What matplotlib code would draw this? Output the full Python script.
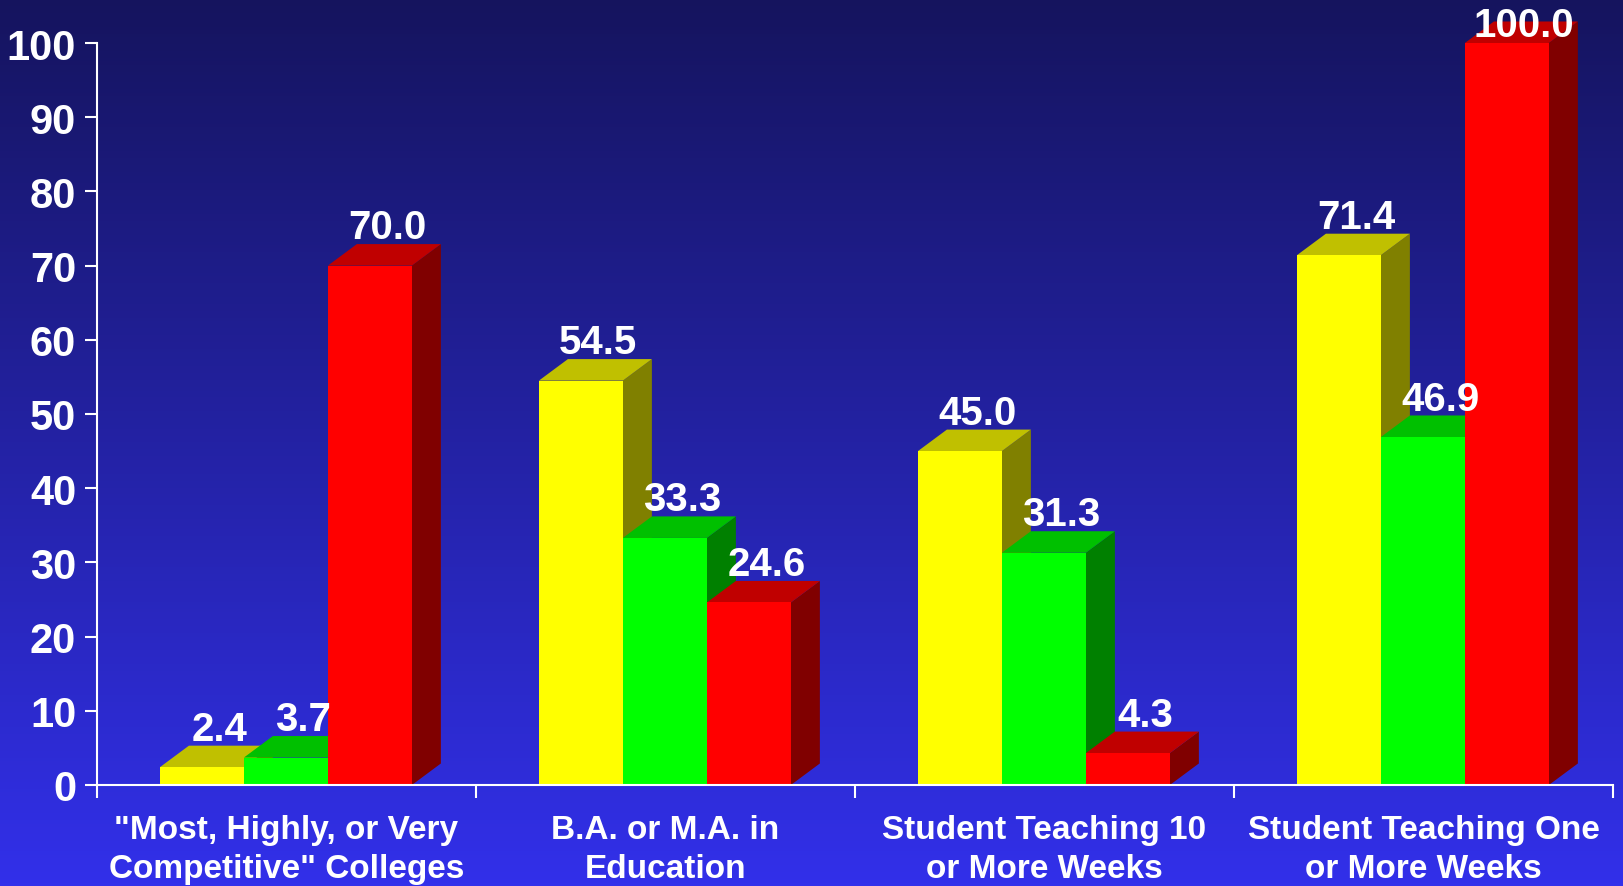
import numpy as np
import matplotlib.pyplot as plt
from matplotlib.patches import Polygon

categories = ['"Most, Highly, or Very\nCompetitive" Colleges',
              'B.A. or M.A. in\nEducation',
              'Student Teaching 10\nor More Weeks',
              'Student Teaching One\nor More Weeks']
yellow = [2.4, 54.5, 45.0, 71.4]
green = [3.7, 33.3, 31.3, 46.9]
red = [70.0, 24.6, 4.3, 100.0]
yticks = list(range(0, 101, 10))

# (front, top, side) colours per series
colors = [('#FFFF00', '#C0C000', '#808000'),
          ('#00FF00', '#00C000', '#008000'),
          ('#FF0000', '#C00000', '#800000')]

plt.rcParams['font.family'] = ['Liberation Sans', 'DejaVu Sans']
plt.rcParams['font.weight'] = 'bold'

fig = plt.figure(figsize=(16.24, 8.87), dpi=100)

# background gradient
bg = fig.add_axes([0, 0, 1, 1], zorder=-1)
top_c = np.array([21, 20, 94]) / 255
bot_c = np.array([50, 48, 234]) / 255
t = np.linspace(0, 1, 256)[:, None]
grad = (top_c[None, :] * (1 - t) + bot_c[None, :] * t)[:, None, :]
bg.imshow(grad, aspect='auto', extent=[0, 1, 0, 1])
bg.axis('off')

ax = fig.add_axes([97 / 1624, 101 / 887, 1516 / 1624, 742 / 887])
ax.set_facecolor('none')
ax.set_xlim(0, 4)
ax.set_ylim(0, 100)

offset = 0.166
width = 0.2216
dx = 0.0765
dy = 2.9

for i in range(len(categories)):
    for j, vals in enumerate([yellow, green, red]):
        h = vals[i]
        x0 = i + offset + j * width
        front, topc, side = colors[j]
        ax.add_patch(Polygon([(x0 + width, 0), (x0 + width + dx, dy),
                              (x0 + width + dx, h + dy), (x0 + width, h)],
                             closed=True, facecolor=side, edgecolor='none',
                             clip_on=False, zorder=2))
        ax.add_patch(Polygon([(x0, h), (x0 + width, h),
                              (x0 + width + dx, h + dy), (x0 + dx, h + dy)],
                             closed=True, facecolor=topc, edgecolor='none',
                             clip_on=False, zorder=2))
        ax.add_patch(Polygon([(x0, 0), (x0 + width, 0), (x0 + width, h), (x0, h)],
                             closed=True, facecolor=front, edgecolor='none',
                             clip_on=False, zorder=2))
        ax.text(x0 + width / 2 + dx * 0.6, min(h + dy + 0.8, 100.9), f'{h:.1f}',
                ha='center', va='baseline', color='white', fontsize=29,
                fontweight='bold', zorder=5, clip_on=False)

for s in ['top', 'right']:
    ax.spines[s].set_visible(False)
for s in ['left', 'bottom']:
    ax.spines[s].set_color('white')
    ax.spines[s].set_linewidth(1.5)
    ax.spines[s].set_zorder(3)

ax.set_yticks(yticks)
ax.tick_params(axis='y', colors='white', labelsize=30, length=9, width=1.5, pad=6)
for lab in ax.get_yticklabels():
    lab.set_fontweight('bold')

ax.set_xticks(range(5))
ax.set_xticklabels([])
ax.tick_params(axis='x', which='major', colors='white', length=9, width=1.5)
ax.set_xticks([i + 0.5 for i in range(4)], minor=True)
ax.set_xticklabels(categories, minor=True, fontsize=24, fontweight='bold',
                   color='white', linespacing=1.32)
ax.tick_params(axis='x', which='minor', length=0, pad=21)

fig.savefig('out.png', dpi=100)
